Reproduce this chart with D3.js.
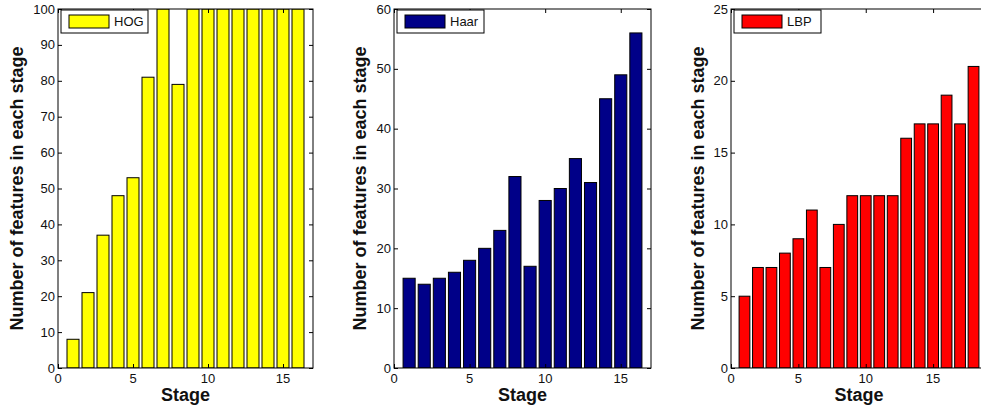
<!DOCTYPE html>
<html>
<head>
<meta charset="utf-8">
<script src="https://cdn.jsdelivr.net/npm/d3@7"></script>
<style>
  body { margin: 0; background: #fff; }
  svg { display: block; font-family: "Liberation Sans", Arial, sans-serif; }
  .tick-label { font-size: 13px; fill: #111; }
  .axis-title { font-size: 18px; font-weight: bold; fill: #111; }
  .legend-text { font-size: 13px; fill: #111; }
</style>
</head>
<body>
<svg></svg>
<script>
// DATA
const hogStages = d3.range(1, 17);
const hogValues = [8, 21, 37, 48, 53, 81, 100, 79, 100, 100, 100, 100, 100, 100, 100, 100];
const haarStages = d3.range(1, 17);
const haarValues = [15, 14, 15, 16, 18, 20, 23, 32, 17, 28, 30, 35, 31, 45, 49, 56];
const lbpStages = d3.range(1, 19);
const lbpValues = [5, 7, 7, 8, 9, 11, 7, 10, 12, 12, 12, 12, 16, 17, 17, 19, 17, 21];

const xTicks = [0, 5, 10, 15];
const hogYTicks = [0, 10, 20, 30, 40, 50, 60, 70, 80, 90, 100];
const haarYTicks = [0, 10, 20, 30, 40, 50, 60];
const lbpYTicks = [0, 5, 10, 15, 20, 25];

// LAYOUT
const WIDTH = 981, HEIGHT = 409;
const TOP = 9, BOTTOM = 368;
const BAR_WIDTH = 0.8;
const TICK_LEN = 4;

const panels = [
  {name: "HOG", stages: hogStages, values: hogValues, yTicks: hogYTicks, xMax: 17, yMax: 100,
   left: 58, right: 313, color: "#ffff00", ylabelX: 23},
  {name: "Haar", stages: haarStages, values: haarValues, yTicks: haarYTicks, xMax: 17, yMax: 60,
   left: 394, right: 651, color: "#000088", ylabelX: 366},
  {name: "LBP", stages: lbpStages, values: lbpValues, yTicks: lbpYTicks, xMax: 19, yMax: 25,
   left: 731, right: 987, color: "#ff0000", ylabelX: 704}
];

const svg = d3.select("svg").attr("width", WIDTH).attr("height", HEIGHT);

panels.forEach((p, idx) => {
  const x = d3.scaleLinear().domain([0, p.xMax]).range([p.left, p.right]);
  const y = d3.scaleLinear().domain([0, p.yMax]).range([BOTTOM, TOP]);
  const g = svg.append("g");

  const clipId = "clip" + idx;
  g.append("clipPath").attr("id", clipId)
    .append("rect")
    .attr("x", p.left).attr("y", TOP)
    .attr("width", p.right - p.left).attr("height", BOTTOM - TOP);

  // bars
  g.append("g").attr("clip-path", "url(#" + clipId + ")")
    .selectAll("rect")
    .data(p.stages)
    .enter()
    .append("rect")
    .attr("x", (d) => x(d - BAR_WIDTH / 2))
    .attr("width", (d) => x(d + BAR_WIDTH / 2) - x(d - BAR_WIDTH / 2))
    .attr("y", (d, i) => y(p.values[i]))
    .attr("height", (d, i) => BOTTOM - y(p.values[i]))
    .attr("fill", p.color)
    .attr("stroke", "#000")
    .attr("stroke-width", 1);

  // frame
  g.append("rect")
    .attr("x", p.left).attr("y", TOP)
    .attr("width", p.right - p.left).attr("height", BOTTOM - TOP)
    .attr("fill", "none").attr("stroke", "#000").attr("stroke-width", 1);

  // ticks (inward, on all four sides like matlab box)
  const yAxL = d3.axisRight(y).tickValues(p.yTicks).tickSize(TICK_LEN).tickFormat("");
  const yAxR = d3.axisLeft(y).tickValues(p.yTicks).tickSize(TICK_LEN).tickFormat("");
  const xAxB = d3.axisTop(x).tickValues(xTicks).tickSize(TICK_LEN).tickFormat("");
  const xAxT = d3.axisBottom(x).tickValues(xTicks).tickSize(TICK_LEN).tickFormat("");
  g.append("g").attr("transform", `translate(${p.left},0)`).call(yAxL);
  g.append("g").attr("transform", `translate(${p.right},0)`).call(yAxR);
  g.append("g").attr("transform", `translate(0,${BOTTOM})`).call(xAxB);
  g.append("g").attr("transform", `translate(0,${TOP})`).call(xAxT);
  g.selectAll(".domain").remove();
  g.selectAll(".tick line").attr("stroke", "#000");

  // tick labels
  g.selectAll(".ylab")
    .data(p.yTicks)
    .enter()
    .append("text")
    .classed("tick-label", true)
    .attr("x", p.left - 3)
    .attr("y", (d) => y(d))
    .attr("dy", "0.35em")
    .attr("text-anchor", "end")
    .text((d) => d);

  g.selectAll(".xlab")
    .data(xTicks)
    .enter()
    .append("text")
    .classed("tick-label", true)
    .attr("x", (d) => x(d))
    .attr("y", BOTTOM + 15)
    .attr("text-anchor", "middle")
    .text((d) => d);

  // axis titles
  g.append("text")
    .classed("axis-title", true)
    .attr("x", (p.left + p.right) / 2)
    .attr("y", 401)
    .attr("text-anchor", "middle")
    .text("Stage");

  g.append("text")
    .classed("axis-title", true)
    .attr("transform", `translate(${p.ylabelX},${(TOP + BOTTOM) / 2}) rotate(-90)`)
    .attr("text-anchor", "middle")
    .text("Number of features in each stage");

  // legend
  const lg = g.append("g").attr("transform", `translate(${p.left + 3},${TOP + 1})`);
  lg.append("rect")
    .attr("x", 0).attr("y", 0).attr("width", 87).attr("height", 23)
    .attr("fill", "#fff").attr("stroke", "#000").attr("stroke-width", 1);
  lg.append("rect")
    .attr("x", 8).attr("y", 5).attr("width", 40).attr("height", 13)
    .attr("fill", p.color).attr("stroke", "#000").attr("stroke-width", 1);
  lg.append("text")
    .classed("legend-text", true)
    .attr("x", 53).attr("y", 16)
    .text(p.name);
});
</script>
</body>
</html>
